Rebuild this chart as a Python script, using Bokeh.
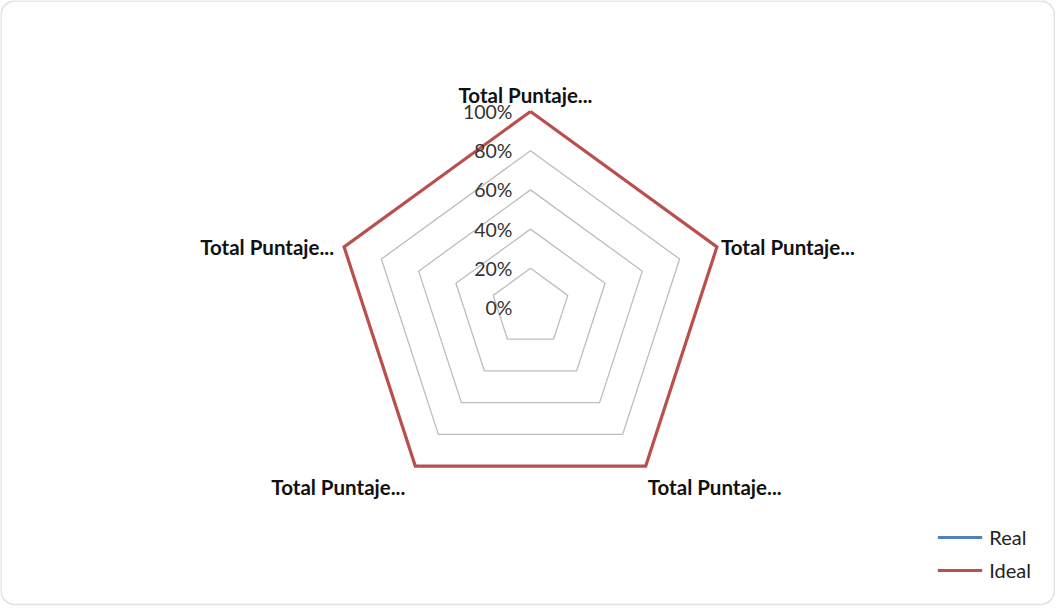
import math
from bokeh.plotting import figure
from bokeh.models import Range1d, ColumnDataSource, Legend, LegendItem, BoxAnnotation
from bokeh.core.properties import value
from bokeh.embed import file_html
from bokeh.resources import INLINE

# ---- data ----
categories = ["Total Puntaje...", "Total Puntaje...", "Total Puntaje...",
              "Total Puntaje...", "Total Puntaje..."]
real_values = [0.0, 0.0, 0.0, 0.0, 0.0]
ideal_values = [1.0, 1.0, 1.0, 1.0, 1.0]
tick_values = [0.0, 0.2, 0.4, 0.6, 0.8, 1.0]
tick_labels = ["0%", "20%", "40%", "60%", "80%", "100%"]

# ---- layout ----
W, H = 1055, 606
CX, CY = 530, 307      # centre in figure pixels
S = 196                # pixels per 100%
FONT = "Lato"

p = figure(width=W, height=H, output_backend="svg", toolbar_location=None,
           x_range=Range1d(-CX / S, (W - CX) / S),
           y_range=Range1d(-(H - CY) / S, CY / S),
           min_border=0)
p.axis.visible = False
p.grid.visible = False
p.outline_line_color = None
p.background_fill_color = "white"
p.border_fill_color = "white"

n = len(categories)
angles = [math.pi / 2 - 2 * math.pi * i / n for i in range(n)]


def polar(vals):
    xs = [v * math.cos(a) for v, a in zip(vals, angles)]
    ys = [v * math.sin(a) for v, a in zip(vals, angles)]
    return xs + xs[:1], ys + ys[:1]


# grid pentagons
for t in tick_values[1:]:
    gx, gy = polar([t] * n)
    p.line(gx, gy, line_color="#BDBDBD", line_width=1.3)

# series
rx, ry = polar(real_values)
ix, iy = polar(ideal_values)
r_real = p.line(rx, ry, line_color="#4F81BD", line_width=3)
r_ideal = p.line(ix, iy, line_color="#B9504E", line_width=3.2, line_join="miter")

# tick labels
p.text(x=[-18 / S] * len(tick_values), y=tick_values, text=tick_labels,
       text_align="right", text_baseline="middle",
       text_font=value(FONT), text_font_size="19.5px", text_color="#333333")

# category labels
lx = [math.cos(a) for a in angles]
ly = [math.sin(a) for a in angles]
aligns = ["center", "left", "left", "right", "right"]
xoffs = [-5, 4, 2, -10, -10]
yoffs = [-17, 0, 21, 21, 0]
src = ColumnDataSource(dict(x=lx, y=ly, text=categories, align=aligns,
                            xo=xoffs, yo=yoffs))
p.text(x="x", y="y", text="text", source=src, text_align="align",
       x_offset="xo", y_offset="yo", text_baseline="middle",
       text_font=value(FONT), text_font_size="20.5px", text_font_style="bold",
       text_color="#111111")

# chart frame
p.add_layout(BoxAnnotation(left=(0.5 - CX) / S, right=(W - 1 - CX) / S,
                           top=(CY - 0.5) / S, bottom=(CY - 604) / S,
                           fill_color=None, line_color="#9A9A9A", line_width=1.5,
                           border_radius=14))

legend = Legend(items=[LegendItem(label="Real", renderers=[r_real]),
                       LegendItem(label="Ideal", renderers=[r_ideal])],
                location="bottom_right", border_line_color=None,
                background_fill_alpha=0, margin=24, padding=4,
                glyph_width=45, glyph_height=20, label_height=20,
                label_standoff=7, spacing=9,
                label_text_font=FONT, label_text_font_size="20px",
                label_text_color="#222222")
p.add_layout(legend)

open("out.html", "w").write(file_html(p, INLINE))
